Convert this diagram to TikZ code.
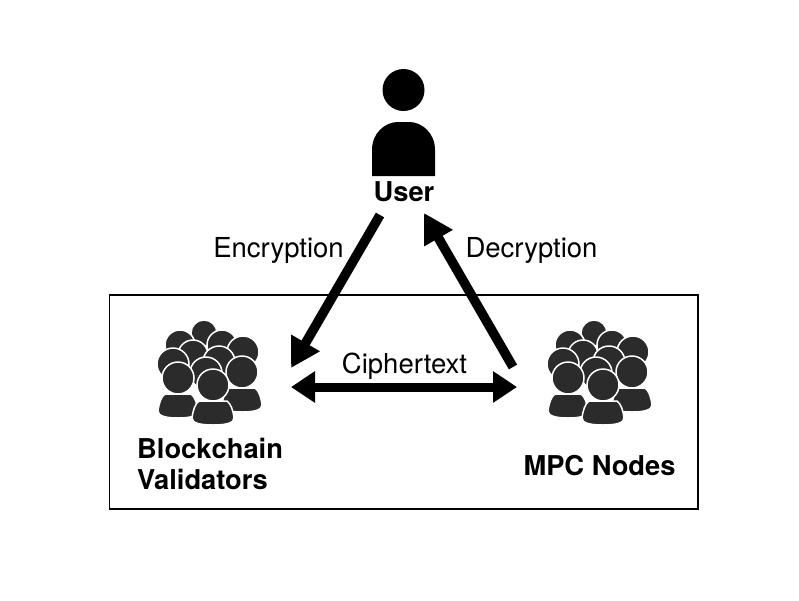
\documentclass[tikz,border=0pt]{standalone}
\usepackage{fontspec}
\setmainfont{TeX Gyre Heros}
\usetikzlibrary{arrows.meta}
\definecolor{crowd}{HTML}{2B2B2B}
\tikzset{
  x=1pt,y=-1pt,
  lbl/.style={font=\fontsize{27.5}{30}\selectfont,inner sep=0pt,anchor=center},
  bold/.style={font=\fontsize{27.3}{31}\selectfont\bfseries,inner sep=0pt,align=left},
  flow/.style={line width=9.5pt,-{Triangle[length=29pt,width=31pt]}},
  both/.style={line width=9pt,{Triangle[length=24pt,width=30pt]}-{Triangle[length=24pt,width=30pt]}},
  fig/.style={fill=crowd,draw=white,line width=1.5pt}
}
\newcommand{\dome}[3]{\fill[fig] (#1,#2) circle[radius=#3];}
\newcommand{\member}[4]{% x y head-radius body-half-width
  \fill[fig] (#1-#4,#2+#3+17) .. controls (#1-#4+1,#2+#3+9) and (#1-#4+3,#2+#3+3) .. (#1-#4+7,#2+#3) -- (#1+#4-7,#2+#3) .. controls (#1+#4-3,#2+#3+3) and (#1+#4-1,#2+#3+9) .. (#1+#4,#2+#3+17) .. controls (#1+#4,#2+#3+22) and (#1+#4-8,#2+#3+24) .. (#1,#2+#3+24) .. controls (#1-#4+8,#2+#3+24) and (#1-#4,#2+#3+22) .. (#1-#4,#2+#3+17) -- cycle;
  \fill[fig] (#1,#2) circle[radius=#3];
}
\newcommand{\crowdicon}[2]{%
  \begin{scope}[shift={(#1,#2)}]
  \dome{204}{333}{13}
  \dome{180}{345}{15}
  \dome{222}{345}{15}
  \dome{243}{352}{16}
  \dome{193}{355}{15}
  \dome{219}{362}{16}
  \dome{173}{364}{16}
  \dome{206}{373}{16}
  \member{242}{372}{16}{20}
  \member{178}{378}{16}{20}
  \member{213}{385}{16}{21}
  \end{scope}
}
\begin{document}
\begin{tikzpicture}
\useasboundingbox (0,0) rectangle (799,600);
\fill[white] (0,0) rectangle (799,600);
\draw[line width=1.5pt] (109.5,295) rectangle (698,509);
% user
\fill (403.5,90) circle[radius=21];
\fill (372,176) -- (372,150) .. controls (372,133) and (385,122) .. (398,122) -- (409,122) .. controls (422,122) and (435,133) .. (435,150) -- (435,176) -- cycle;
\crowdicon{0}{0}
\crowdicon{390}{0}
\node[bold,anchor=center] (user) at (404,192) {User};
\node[bold,anchor=north west] (val) at (137,438) {Blockchain\\Validators};
\node[bold,anchor=center] (mpc) at (599.5,466) {MPC Nodes};
\node[lbl] (enc) at (278.5,250.5) {Encryption};
\node[lbl] (dec) at (531.5,250.5) {Decryption};
\node[lbl] (cip) at (404.5,366.5) {Ciphertext};
\coordinate (a1) at (380,215);
\coordinate (a2) at (291,368);
\coordinate (b1) at (513,367);
\coordinate (b2) at (424,213);
\coordinate (c1) at (291,387);
\coordinate (c2) at (517,387);
\draw[flow] (a1) -- (a2);
\draw[flow] (b1) -- (b2);
\draw[both] (c1) -- (c2);
\end{tikzpicture}
\end{document}
